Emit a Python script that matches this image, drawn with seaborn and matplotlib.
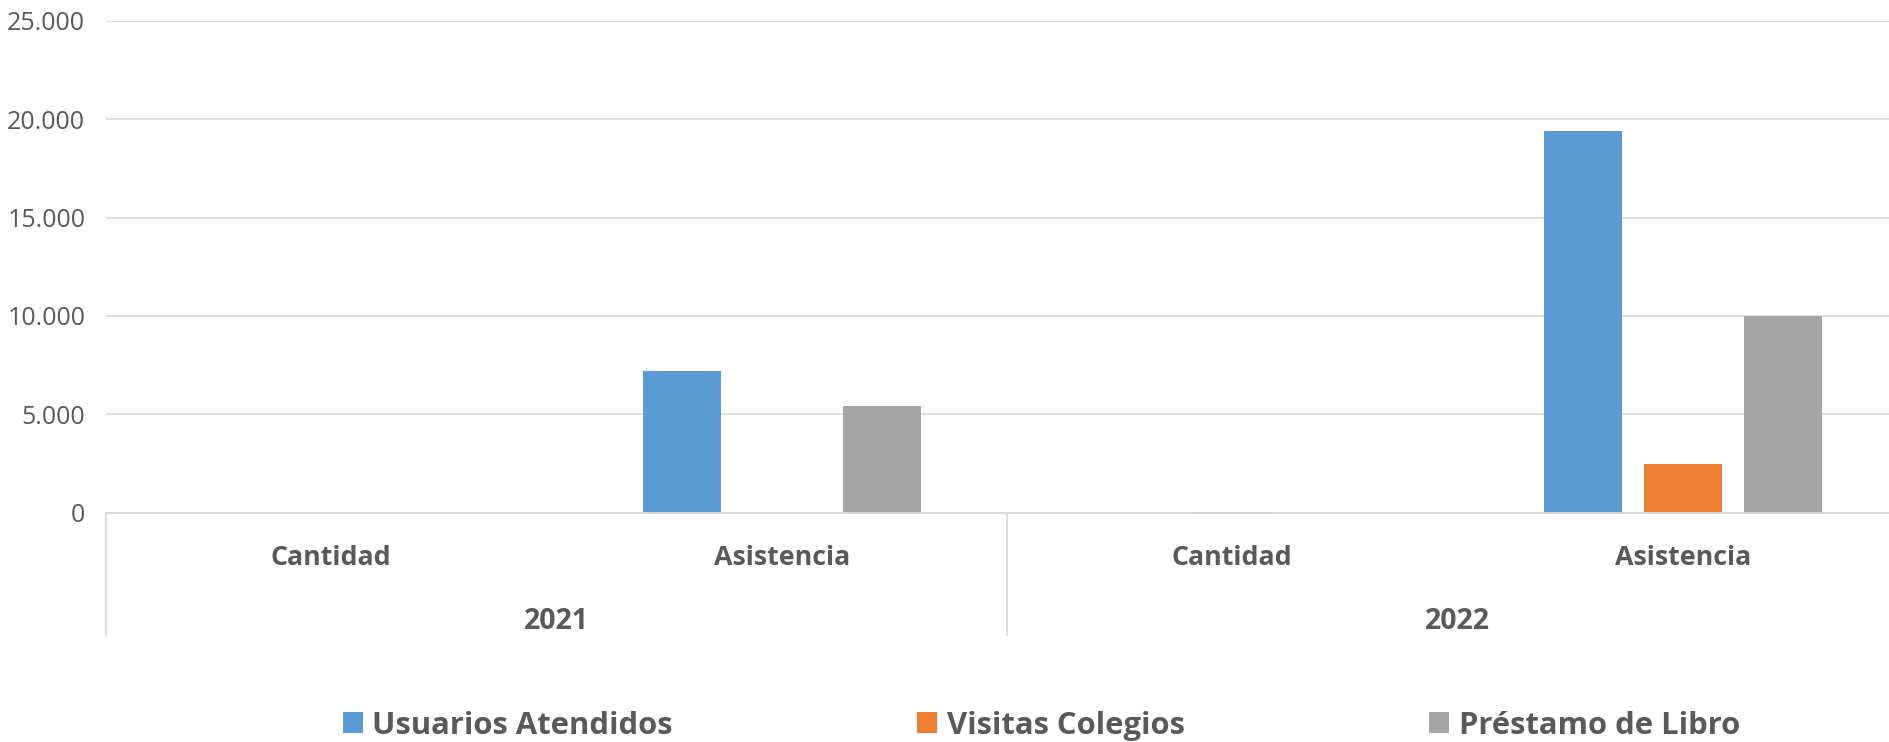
import pandas as pd
import numpy as np
import matplotlib.pyplot as plt
import seaborn as sns
from matplotlib.ticker import FuncFormatter

# Data
years = ["2021", "2021", "2022", "2022"]
metrics = ["Cantidad", "Asistencia", "Cantidad", "Asistencia"]
series = ["Usuarios Atendidos", "Visitas Colegios", "Préstamo de Libro"]
usuarios = [0, 7190, 0, 19400]
visitas = [0, 0, 30, 2480]
prestamo = [0, 5440, 0, 10000]
colors = ["#5B9BD5", "#ED7D31", "#A5A5A5"]

# Long-format table for seaborn
groups = [f"{y} {m}" for y, m in zip(years, metrics)]
rows = []
for name, vals in zip(series, [usuarios, visitas, prestamo]):
    for g, v in zip(groups, vals):
        rows.append({"grupo": g, "serie": name, "valor": v})
df = pd.DataFrame(rows)

sns.set_style("white")
plt.rcParams["font.family"] = ["Open Sans", "DejaVu Sans"]
text_color = "#595959"
grid_color = "#D9D9D9"

fig = plt.figure(figsize=(18.9, 7.42), dpi=100)
ax = fig.add_axes([0.0561, 0.309, 0.9534, 0.663])

sns.barplot(data=df, x="grupo", y="valor", hue="serie", order=groups,
            hue_order=series, palette=colors, saturation=1, width=0.666,
            gap=0.217, errorbar=None, linewidth=0, ax=ax)

ax.set_ylim(0, 25000)
ax.set_xlim(-0.5, len(groups) - 0.5)
ax.set_yticks(np.arange(0, 25001, 5000))
ax.yaxis.set_major_formatter(FuncFormatter(lambda v, p: f"{int(v):,}".replace(",", ".")))
ax.grid(axis="y", color=grid_color, linewidth=1.2)
ax.set_axisbelow(True)
for s in ["top", "right", "left"]:
    ax.spines[s].set_visible(False)
ax.spines["bottom"].set_color(grid_color)
ax.spines["bottom"].set_linewidth(1.4)

ax.tick_params(axis="y", length=0, pad=15, labelsize=18, labelcolor=text_color)
ax.tick_params(axis="x", length=0, pad=23, labelsize=19.3, labelcolor=text_color)
ax.set_xticks(range(len(groups)))
ax.set_xticklabels(metrics, fontweight="bold")
ax.set_xlabel("")
ax.set_ylabel("")

# second level of the category axis: years and separators
trans = ax.get_xaxis_transform()
year_names = list(dict.fromkeys(years))
for i, yr in enumerate(year_names):
    idx = [k for k, y in enumerate(years) if y == yr]
    ax.text(np.mean(idx), -0.222, yr, transform=trans, ha="center", va="center",
            fontsize=20.5, fontweight="bold", color=text_color)
bounds = [-0.5] + [k + 0.5 for k in range(len(years) - 1) if years[k] != years[k + 1]] + [len(years) - 0.5]
for b in bounds:
    ax.plot([b, b], [0, -0.248], transform=trans, color=grid_color,
            linewidth=1.4, clip_on=False)

handles, labels = ax.get_legend_handles_labels()
ax.legend_.remove()
fig.legend(handles, labels, loc="center", bbox_to_anchor=(0.551, 0.022),
           ncol=3, frameon=False, handlelength=0.65, handleheight=0.65,
           handletextpad=0.3, columnspacing=7.9,
           prop={"size": 22.3, "weight": "bold"}, labelcolor=text_color)

fig.savefig("out.png", dpi=100)
